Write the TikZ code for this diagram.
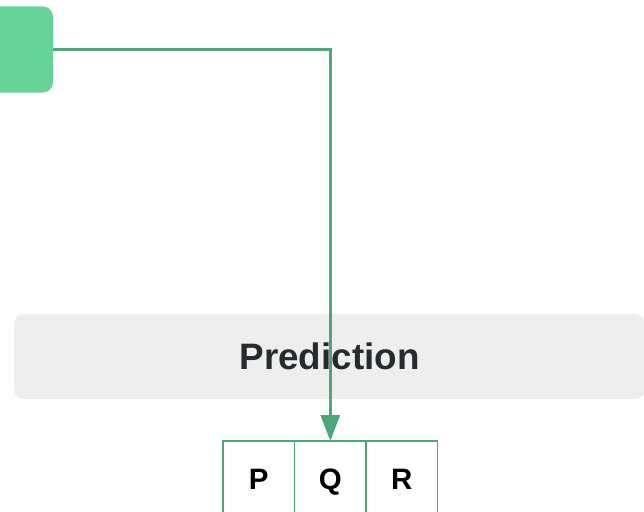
\documentclass[tikz,border=0pt]{standalone}
\usepackage{fontspec}
\setmainfont{Liberation Sans}
\usetikzlibrary{arrows.meta,positioning}
\definecolor{srcgreen}{RGB}{102,212,150}
\definecolor{linkgreen}{RGB}{76,168,118}
\definecolor{predgray}{RGB}{238,238,238}
\definecolor{predtext}{RGB}{38,43,46}

\begin{document}
\begin{tikzpicture}[x=1pt, y=-1pt,
        srcbox/.style={rectangle, fill=srcgreen, rounded corners=10pt, minimum width=70pt, minimum height=86pt, inner sep=0pt},
        predbox/.style={rectangle, fill=predgray, rounded corners=10pt, minimum width=631pt, minimum height=85pt, inner sep=0pt, text=predtext, font=\fontsize{36.8}{36.8}\selectfont\bfseries},
        cell/.style={rectangle, draw=linkgreen, line width=1.2pt, minimum width=71.5pt, minimum height=74pt, inner sep=0pt, outer sep=0pt, anchor=north west},
        celltext/.style={font=\fontsize{29.5}{29.5}\selectfont\bfseries, anchor=base, inner sep=0pt},
        arrow/.style={-{Triangle[length=26pt, width=19pt]}, draw=linkgreen, line width=3pt}
    ]
        \useasboundingbox (0,0) rectangle (644,511);

        \node[srcbox] (src) at (18,49.5) {};
        \node[predbox] (pred) at (329.5,356.5) {Prediction};

        \node[cell] (cellP) at (223,441) {};
        \node[cell, right=0pt of cellP] (cellQ) {};
        \node[cell, right=0pt of cellQ] (cellR) {};
        \node[celltext] (txtP) at ([yshift=-48.5pt]cellP.north) {P};
        \node[celltext] (txtQ) at ([yshift=-48.5pt]cellQ.north) {Q};
        \node[celltext] (txtR) at ([yshift=-48.5pt]cellR.north) {R};

        \draw[arrow] (src.east) -| (cellQ.north);
    \end{tikzpicture}
\end{document}
